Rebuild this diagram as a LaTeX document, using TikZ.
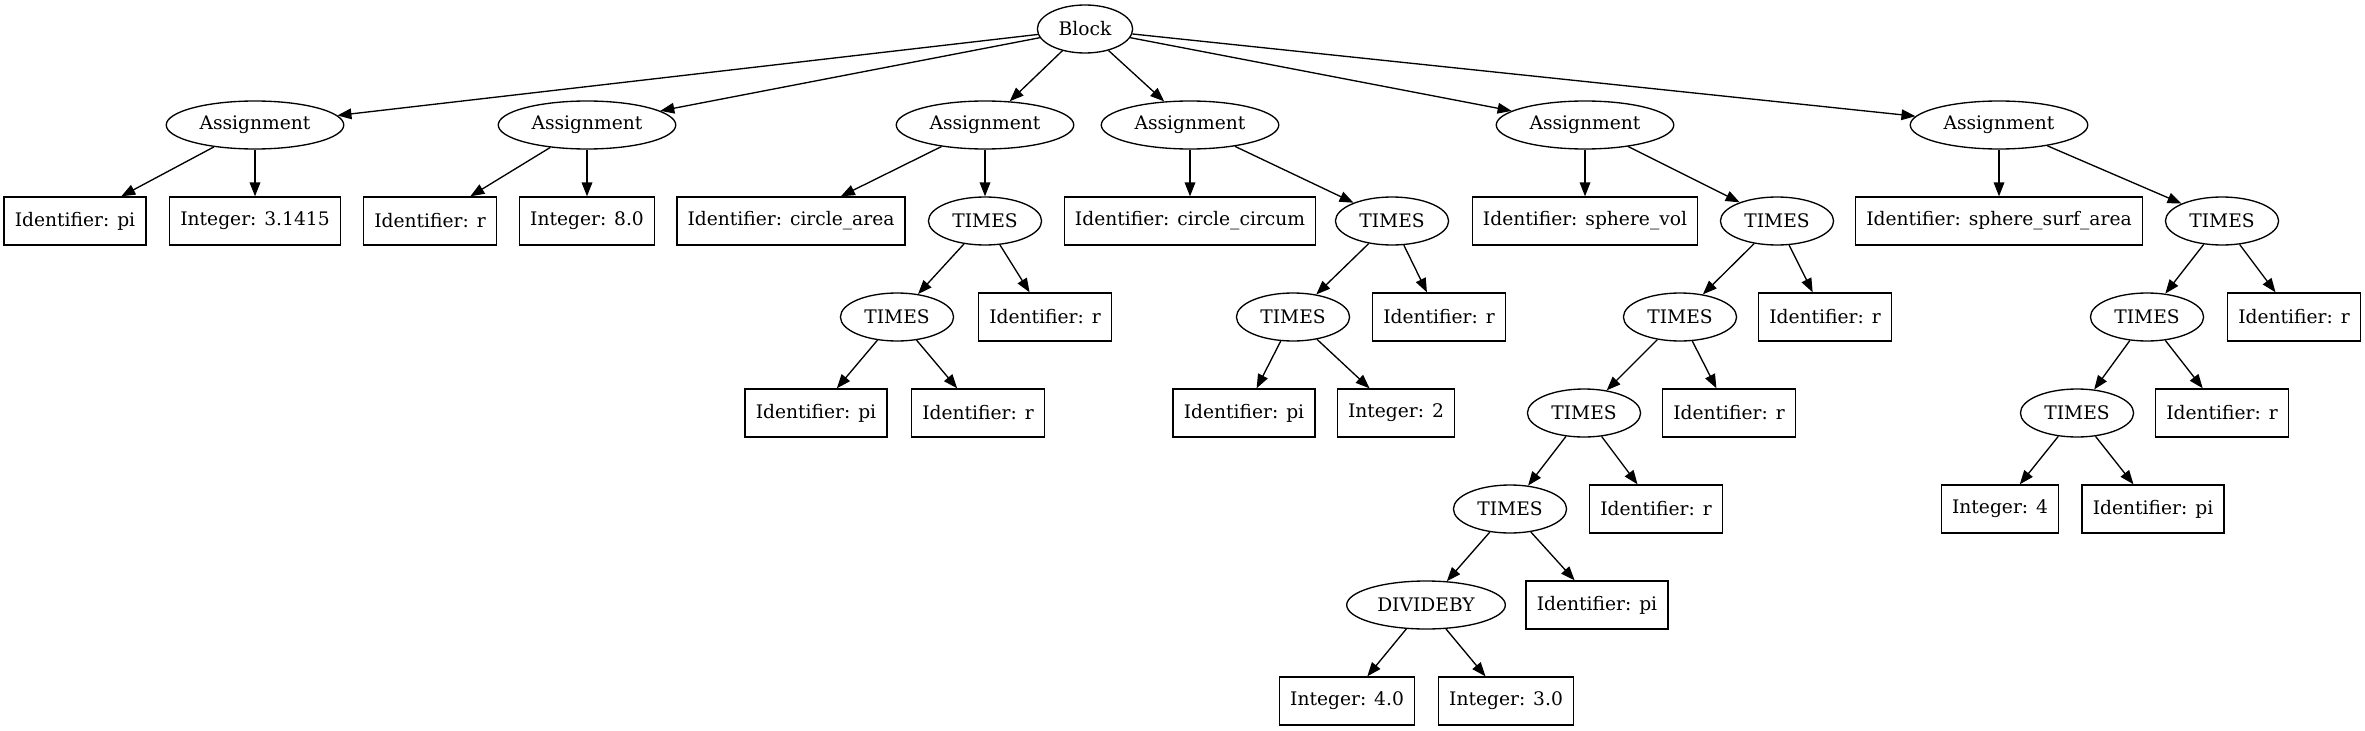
\documentclass[tikz,border=0pt]{standalone}
\usepackage{fontspec}
\setmainfont{DejaVu Serif}
\usetikzlibrary{arrows.meta,shapes.geometric}

\begin{document}
\begin{tikzpicture}[
  x=0.75pt,
  y=-0.75pt,
  opnode/.style={
    draw,
    ellipse,
    line width=1pt,
    inner xsep=5.5pt,
    minimum height=36pt,
    font=\fontsize{14}{16}\selectfont
  },
  leafnode/.style={
    draw,
    rectangle,
    line width=1pt,
    inner xsep=8pt,
    minimum height=36pt,
    font=\fontsize{14}{16}\selectfont
  },
  arrow/.style={-{Triangle[length=10.5pt,width=8pt]},line width=1pt}
]
  \useasboundingbox (0,0) rectangle (2365,731);

  % root and assignments
  \node[opnode] (block) at (1085,29) {Block};
  \node[opnode] (asgA) at (255,125) {Assignment};
  \node[opnode] (asgB) at (587,125) {Assignment};
  \node[opnode] (asgC) at (985,125) {Assignment};
  \node[opnode] (asgD) at (1190,125) {Assignment};
  \node[opnode] (asgE) at (1585,125) {Assignment};
  \node[opnode] (asgF) at (1999,125) {Assignment};

  % second level
  \node[leafnode] (idPi) at (75,221) {Identifier: pi};
  \node[leafnode] (intPi) at (255,221) {Integer: 3.1415};
  \node[leafnode] (idR) at (430,221) {Identifier: r};
  \node[leafnode] (intR) at (587,221) {Integer: 8.0};
  \node[leafnode] (idArea) at (791,221) {Identifier: circle\_area};
  \node[opnode] (timesC) at (985,221) {TIMES};
  \node[leafnode] (idCircum) at (1190,221) {Identifier: circle\_circum};
  \node[opnode] (timesD) at (1392,221) {TIMES};
  \node[leafnode] (idVol) at (1585,221) {Identifier: sphere\_vol};
  \node[opnode] (timesE) at (1777,221) {TIMES};
  \node[leafnode] (idSurf) at (1999,221) {Identifier: sphere\_surf\_area};
  \node[opnode] (timesF) at (2222,221) {TIMES};

  % third level
  \node[opnode] (timesCa) at (897,317) {TIMES};
  \node[leafnode] (idCr) at (1045,317) {Identifier: r};
  \node[opnode] (timesDa) at (1293,317) {TIMES};
  \node[leafnode] (idDr) at (1439,317) {Identifier: r};
  \node[opnode] (timesEa) at (1680,317) {TIMES};
  \node[leafnode] (idEr) at (1825,317) {Identifier: r};
  \node[opnode] (timesFa) at (2147,317) {TIMES};
  \node[leafnode] (idFr) at (2294,317) {Identifier: r};

  % fourth level
  \node[leafnode] (idCpi) at (816,413) {Identifier: pi};
  \node[leafnode] (idCrr) at (978,413) {Identifier: r};
  \node[leafnode] (idDpi) at (1244,413) {Identifier: pi};
  \node[leafnode] (intDtwo) at (1396,413) {Integer: 2};
  \node[opnode] (timesEb) at (1584,413) {TIMES};
  \node[leafnode] (idErr) at (1729,413) {Identifier: r};
  \node[opnode] (timesFb) at (2077,413) {TIMES};
  \node[leafnode] (idFrr) at (2222,413) {Identifier: r};

  % deeper levels
  \node[opnode] (timesEc) at (1510,509) {TIMES};
  \node[leafnode] (idErrr) at (1656,509) {Identifier: r};
  \node[leafnode] (intFfour) at (2000,509) {Integer: 4};
  \node[leafnode] (idFpi) at (2153,509) {Identifier: pi};
  \node[opnode] (divE) at (1426,605) {DIVIDEBY};
  \node[leafnode] (idEpi) at (1597,605) {Identifier: pi};
  \node[leafnode] (intEfour) at (1347,701) {Integer: 4.0};
  \node[leafnode] (intEthree) at (1506,701) {Integer: 3.0};

  % edges
  \draw[arrow] (block) -- (asgA);
  \draw[arrow] (block) -- (asgB);
  \draw[arrow] (block) -- (asgC);
  \draw[arrow] (block) -- (asgD);
  \draw[arrow] (block) -- (asgE);
  \draw[arrow] (block) -- (asgF);
  \draw[arrow] (asgA) -- (idPi);
  \draw[arrow] (asgA) -- (intPi);
  \draw[arrow] (asgB) -- (idR);
  \draw[arrow] (asgB) -- (intR);
  \draw[arrow] (asgC) -- (idArea);
  \draw[arrow] (asgC) -- (timesC);
  \draw[arrow] (asgD) -- (idCircum);
  \draw[arrow] (asgD) -- (timesD);
  \draw[arrow] (asgE) -- (idVol);
  \draw[arrow] (asgE) -- (timesE);
  \draw[arrow] (asgF) -- (idSurf);
  \draw[arrow] (asgF) -- (timesF);
  \draw[arrow] (timesC) -- (timesCa);
  \draw[arrow] (timesC) -- (idCr);
  \draw[arrow] (timesD) -- (timesDa);
  \draw[arrow] (timesD) -- (idDr);
  \draw[arrow] (timesE) -- (timesEa);
  \draw[arrow] (timesE) -- (idEr);
  \draw[arrow] (timesF) -- (timesFa);
  \draw[arrow] (timesF) -- (idFr);
  \draw[arrow] (timesCa) -- (idCpi);
  \draw[arrow] (timesCa) -- (idCrr);
  \draw[arrow] (timesDa) -- (idDpi);
  \draw[arrow] (timesDa) -- (intDtwo);
  \draw[arrow] (timesEa) -- (timesEb);
  \draw[arrow] (timesEa) -- (idErr);
  \draw[arrow] (timesFa) -- (timesFb);
  \draw[arrow] (timesFa) -- (idFrr);
  \draw[arrow] (timesEb) -- (timesEc);
  \draw[arrow] (timesEb) -- (idErrr);
  \draw[arrow] (timesFb) -- (intFfour);
  \draw[arrow] (timesFb) -- (idFpi);
  \draw[arrow] (timesEc) -- (divE);
  \draw[arrow] (timesEc) -- (idEpi);
  \draw[arrow] (divE) -- (intEfour);
  \draw[arrow] (divE) -- (intEthree);
\end{tikzpicture}
\end{document}
